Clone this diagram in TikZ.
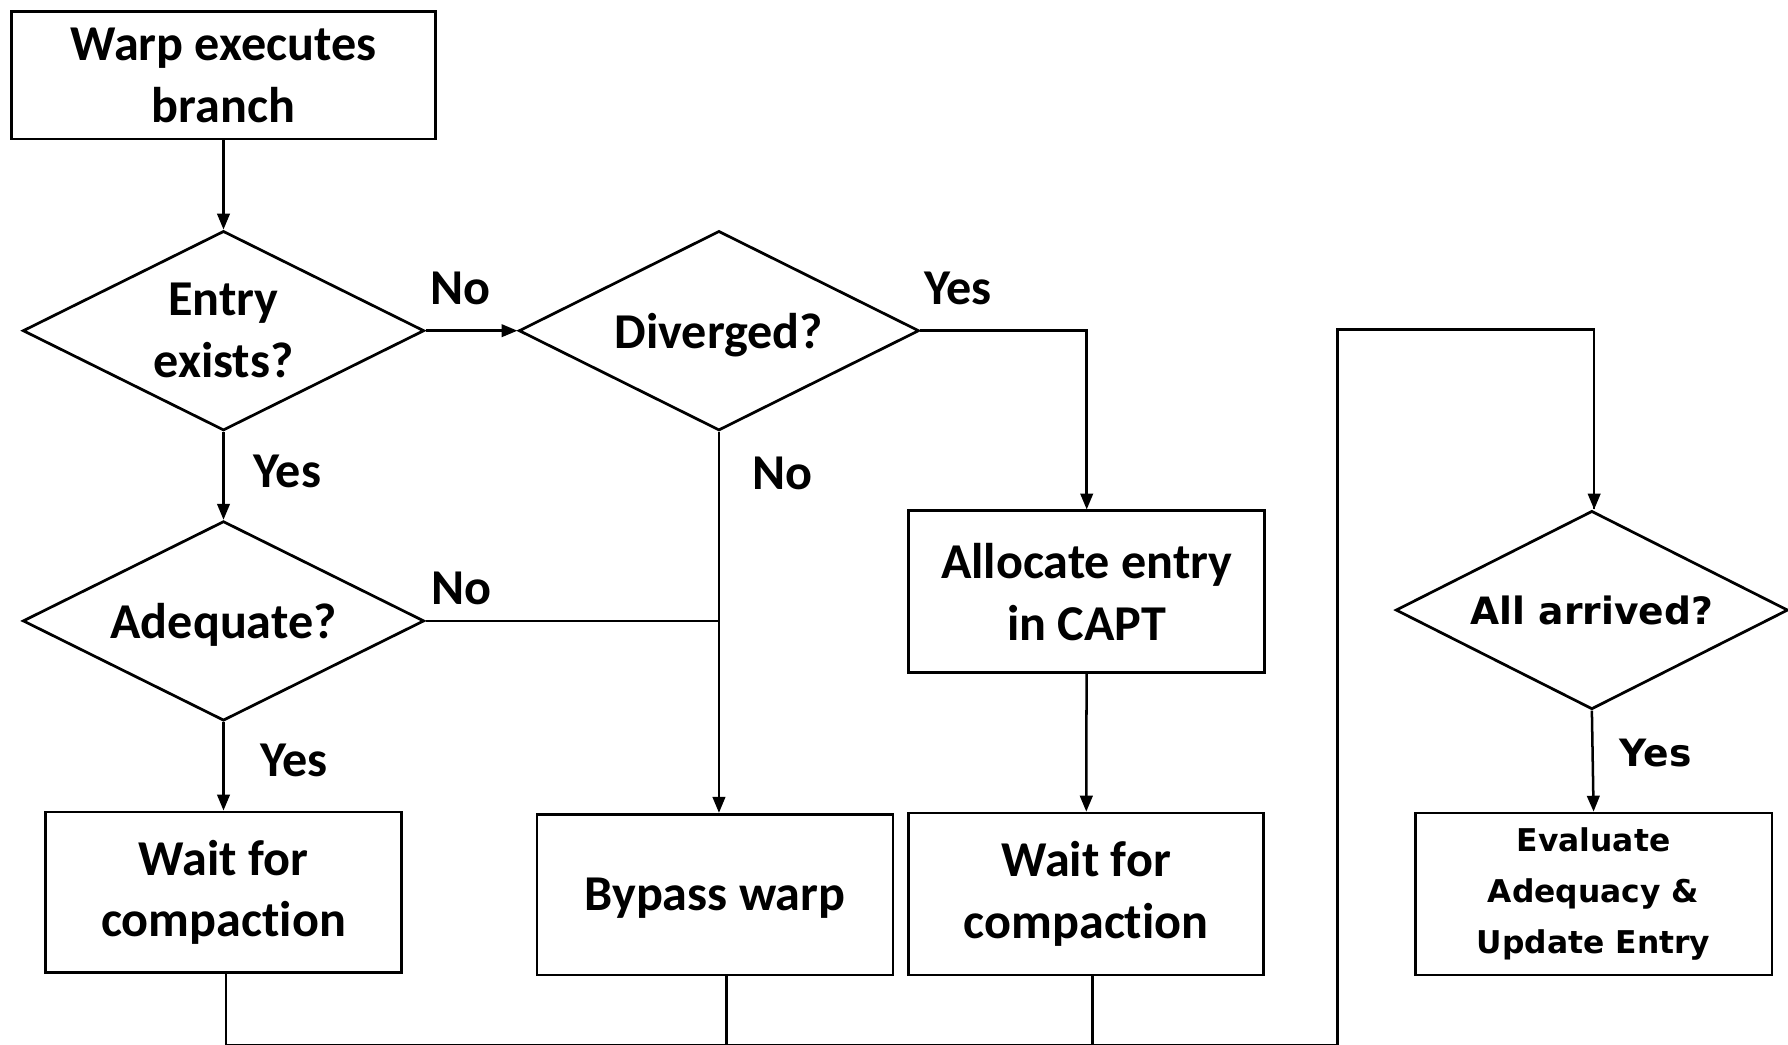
\documentclass[tikz,border=0pt]{standalone}
\usepackage{fontspec}
\setmainfont{Carlito}[Ligatures=NoCommon]
\newfontfamily\widefont{DejaVu Sans}
\usetikzlibrary{shapes.geometric,arrows.meta}

\tikzset{
  every node/.style={font=\bfseries\fontsize{44}{54}\selectfont},
  procbox/.style={draw, line width=2.4pt, rectangle, inner sep=0pt, align=center},
  decision/.style={draw, line width=2.4pt, diamond, inner sep=0pt,
                   minimum width=352pt, minimum height=175pt},
  flow/.style={line width=2.2pt},
  arr/.style={flow, -{Triangle[length=14pt,width=11pt]}},
  answer/.style={inner sep=0pt},
  smalltext/.style={font=\widefont\bfseries\fontsize{27.5}{45}\selectfont},
}

\begin{document}
\begin{tikzpicture}[x=1pt,y=-1pt]
  \useasboundingbox (0,0) rectangle (1568,916);

  % process boxes
  \node[procbox, minimum width=372pt, minimum height=112pt] (start) at (196,66)
       {Warp executes\\branch};
  \node[procbox, minimum width=312pt, minimum height=142pt] (alloc) at (953,519)
       {Allocate entry\\in CAPT};
  \node[procbox, minimum width=312pt, minimum height=141pt] (waitA) at (196,782.5)
       {Wait for\\compaction};
  \node[procbox, minimum width=312pt, minimum height=141pt, text depth=0pt] (bypass) at (627,784.5)
       {Bypass warp};
  \node[procbox, minimum width=311pt, minimum height=142pt] (waitB) at (952.5,784)
       {Wait for\\compaction};
  \node[procbox, minimum width=313pt, minimum height=142pt] (evalbox) at (1397.5,784)
       {};
  \node[smalltext, align=center] (evaltext) at (evalbox.center)
       {Evaluate\\Adequacy \&\\Update Entry};

  % decisions
  \node[decision, label={[align=center]center:Entry\\exists?}] (exists) at (196,290) {};
  \node[decision, minimum width=351pt, label={[text depth=0pt]center:Diverged?}] (diverged) at (630.5,290) {};
  \node[decision, label={[text depth=0pt]center:Adequate?}] (adequate) at (196,544.5) {};
  \node[decision, minimum width=344pt, minimum height=174pt,
        label={[font=\widefont\bfseries\fontsize{33}{40}\selectfont]center:All arrived?}]
       (arrived) at (1396,535) {};

  % junction points
  \coordinate (merge) at (diverged.south |- adequate.east);
  \coordinate (busL) at (196,916.5);
  \coordinate (busR) at (1173,916.5);
  \coordinate (riseTop) at (1173,289);

  % connectors
  \draw[arr] (start) -- (exists.north);
  \draw[arr] (exists.east) -- (diverged.west);
  \draw[arr] (diverged.east) -| (alloc.north);
  \draw[arr] (alloc) -- (waitB);
  \draw[arr] (diverged.south) -- (diverged.south |- bypass.north);
  \draw[flow] (adequate.east) -- (merge);
  \draw[arr] (exists.south) -- (adequate.north);
  \draw[arr] (adequate.south) -- (waitA.north);
  \draw[arr] (arrived.south) -- (evalbox.north);

  % return path along the bottom
  \draw[flow] ([xshift=2pt]waitA.south) -- ([xshift=2pt]waitA.south |- busL);
  \draw[flow] ([xshift=10pt]bypass.south) -- ([xshift=10pt]bypass.south |- busL);
  \draw[flow] ([xshift=5.5pt]waitB.south) -- ([xshift=5.5pt]waitB.south |- busL);
  \draw[flow] ([xshift=2pt]busL) -- (busR) -- (riseTop) -| ([xshift=2pt]arrived.north);
  \draw[arr] ([xshift=2pt]arrived.north |- riseTop) -- ([xshift=2pt]arrived.north);

  % branch labels
  \node[answer] (noA) at (403.5,253) {No};
  \node[answer] (yesA) at (840,253) {Yes};
  \node[answer] (yesB) at (252,413) {Yes};
  \node[answer] (noB) at (686,415) {No};
  \node[answer] (noC) at (405,516) {No};
  \node[answer] (yesC) at (258,667) {Yes};
  \node[answer, font=\widefont\bfseries\fontsize{33}{40}\selectfont] (yesD) at (1452,660) {Yes};
\end{tikzpicture}
\end{document}
